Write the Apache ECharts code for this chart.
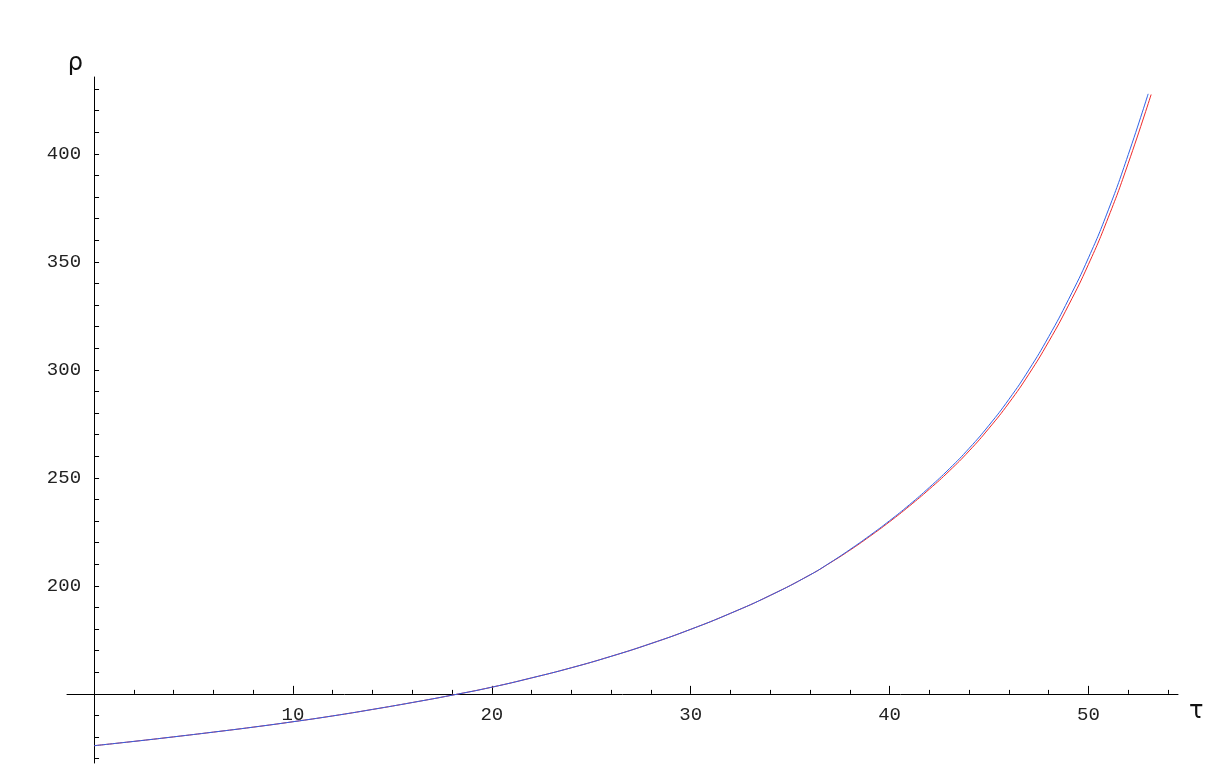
<!DOCTYPE html>
<html>
<head>
<meta charset="utf-8">
<script src="https://cdn.jsdelivr.net/npm/echarts@6/dist/echarts.min.js"></script>
<style>
  html, body { margin: 0; padding: 0; background: #fff; }
  #main { width: 1231px; height: 778px; }
</style>
</head>
<body>
<div id="main"></div>
<script>
// values
var tau = [0, 2, 4, 6, 8, 10, 12, 14, 16, 18, 20, 22, 24, 26, 28, 30, 32, 34, 36,
    37, 38, 39, 40, 41, 42, 43, 44, 45, 46, 47, 48, 49, 50, 51, 52, 53];
var rhoBlue = [126.0, 128.0, 130.1, 132.3, 134.6, 137.1, 139.8, 142.8, 146.0, 149.4,
    153.1, 157.4, 162.1, 167.4, 173.3, 179.9, 187.3, 195.6, 205.1,
    210.7, 216.8, 223.3, 230.2, 237.6, 245.6, 254.2, 263.7, 274.4, 286.4, 300.0,
    315.4, 332.7, 351.9, 374.1, 399.7, 427.8];
var tauRed = [0, 2, 4, 6, 8, 10, 12, 14, 16, 18, 20, 22, 24, 26, 28, 30, 32, 34, 36,
    37, 38, 39, 40, 41, 42, 43, 44, 45, 46, 47, 48, 49, 50, 51, 52, 53.15];
var rhoRed = [126.0, 128.0, 130.1, 132.3, 134.6, 137.1, 139.8, 142.8, 146.0, 149.4,
    153.1, 157.4, 162.1, 167.4, 173.3, 179.9, 187.3, 195.6, 205.1,
    210.6, 216.5, 222.9, 229.7, 237.0, 244.8, 253.2, 262.5, 273.0, 284.7, 298.0,
    313.1, 330.0, 348.9, 370.7, 395.7, 427.5];

var xTicksMajor = [10, 20, 30, 40, 50];
var xTicksMinor = [2, 4, 6, 8, 12, 14, 16, 18, 22, 24, 26, 28, 32, 34, 36, 38, 42, 44, 46, 48, 52, 54];
var yTicks = [120, 130, 140, 160, 170, 180, 190, 200, 210, 220, 230, 240, 250, 260, 270,
    280, 290, 300, 310, 320, 330, 340, 350, 360, 370, 380, 390, 400, 410, 420, 430];
var yLabels = [200, 250, 300, 350, 400];

var xMin = -1.36, xMax = 54.5;
var yMin = 118, yMax = 435.6;
var yCross = 150; // where the tau axis crosses

function pairs(xs, ys) {
    var out = [];
    for (var i = 0; i < xs.length; i++) out.push([xs[i], ys[i]]);
    return out;
}

var gridLeft = 67, gridTop = 77, gridBottom = 15;
var gridHeight = 778 - gridTop - gridBottom;
// move the tau axis up from the grid bottom to rho = 150
var xOffset = -(yCross - yMin) / (yMax - yMin) * gridHeight;
// rho labels stay at the grid edge, so shift them over to the tau = 0 line
var yAxisX = gridLeft + (0 - xMin) / (xMax - xMin) * (1231 - gridLeft - 53);

var monoFont = '"Liberation Mono", "DejaVu Sans Mono", monospace';

var chart = echarts.init(document.getElementById('main'));
chart.setOption({
    backgroundColor: '#ffffff',
    animation: false,
    grid: { left: gridLeft, right: 53, top: gridTop, bottom: gridBottom },
    xAxis: [
        {
            type: 'value', min: xMin, max: xMax, position: 'bottom', offset: xOffset,
            axisLine: { onZero: false, lineStyle: { color: '#000', width: 1 } },
            axisTick: { inside: true, length: 8, customValues: xTicksMajor, lineStyle: { color: '#000' } },
            axisLabel: { customValues: xTicksMajor, margin: 12, fontFamily: monoFont, fontSize: 19, color: '#222' },
            splitLine: { show: false },
            name: 'τ', nameLocation: 'end', nameGap: 11,
            nameTextStyle: { fontFamily: '"DejaVu Sans"', fontSize: 24, color: '#111', verticalAlign: 'top', padding: [6, 0, 0, 0] }
        },
        {
            type: 'value', min: xMin, max: xMax, position: 'bottom', offset: xOffset,
            axisLine: { show: false, onZero: false },
            axisTick: { inside: true, length: 4, customValues: xTicksMinor, lineStyle: { color: '#000' } },
            axisLabel: { show: false },
            splitLine: { show: false }
        }
    ],
    yAxis: {
        type: 'value', min: yMin, max: yMax, position: 'left',
        axisLine: { onZero: true, onZeroAxisIndex: 0, lineStyle: { color: '#000', width: 1 } },
        axisTick: { inside: true, length: 5, customValues: yTicks, lineStyle: { color: '#000' } },
        axisLabel: { customValues: yLabels, margin: 13 - (yAxisX - gridLeft), fontFamily: monoFont, fontSize: 19, color: '#222' },
        splitLine: { show: false },
        name: 'ρ', nameLocation: 'end', nameGap: 1,
        nameTextStyle: { fontFamily: '"DejaVu Sans"', fontSize: 24, color: '#111', align: 'right', padding: [0, 11, 0, 0] }
    },
    series: [
        {
            type: 'line', xAxisIndex: 0, data: pairs(tauRed, rhoRed), smooth: true,
            showSymbol: false, lineStyle: { color: '#f02828', width: 1 }
        },
        {
            type: 'line', xAxisIndex: 0, data: pairs(tau, rhoBlue), smooth: true,
            showSymbol: false, lineStyle: { color: '#2f62e8', width: 1 }
        }
    ]
});
</script>
</body>
</html>
